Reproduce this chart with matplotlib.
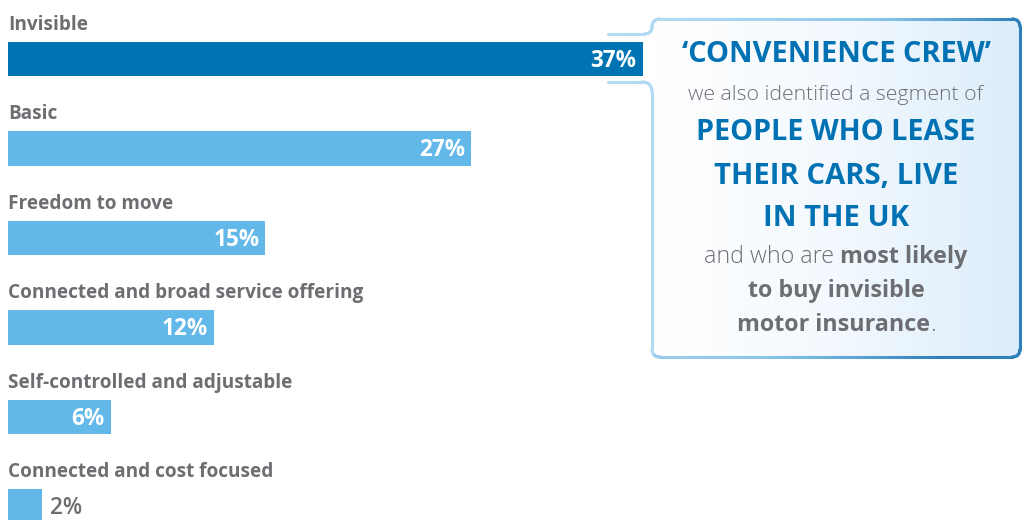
import matplotlib
matplotlib.use("Agg")
import matplotlib.pyplot as plt
import numpy as np
from matplotlib import font_manager
from matplotlib.path import Path
from matplotlib.patches import PathPatch
from matplotlib.collections import LineCollection
from matplotlib.colors import LinearSegmentedColormap

categories = ["Invisible", "Basic", "Freedom to move",
              "Connected and broad service offering",
              "Self-controlled and adjustable", "Connected and cost focused"]
values = [37, 27, 15, 12, 6, 2]

# pick a narrow family if present
def pick_font(names):
    for n in names:
        try:
            font_manager.findfont(n, fallback_to_default=False)
            return n
        except Exception:
            pass
    return "DejaVu Sans"

FONT = pick_font(["Liberation Sans Narrow", "Open Sans", "Roboto"])
plt.rcParams["font.family"] = [FONT, "DejaVu Sans"]

GRAY = "#6d6e72"
BLUE = "#0071b3"
DARK_BAR = "#0074b3"
LIGHT_BAR = "#62b8e9"

W, H = 1022, 520
fig = plt.figure(figsize=(W / 100, H / 100), dpi=100)
fig.patch.set_facecolor("white")

# overlay in pixel coords for the callout
ov = fig.add_axes([0, 0, 1, 1])
ov.set_xlim(0, W)
ov.set_ylim(H, 0)
ov.axis("off")

ax = fig.add_axes([8 / W, 0, (W - 8) / W, 1])
ax.patch.set_alpha(0)
px_per_pct = 17.15
ax.set_xlim(0, (W - 8) / px_per_pct)
ax.set_ylim((H - 59) / 89.5, -59 / 89.5)
ax.axis("off")

ypos = np.arange(len(values))
colors = [DARK_BAR] + [LIGHT_BAR] * (len(values) - 1)
ax.barh(ypos, values, height=0.38, color=colors)

fig.canvas.draw()
r = fig.canvas.get_renderer()

def fit(t, target):
    fig.canvas.draw()
    bb = t.get_window_extent(r)
    t.set_fontsize(t.get_fontsize() * target / bb.width)

# category labels
cat_txt = []
for y, c in zip(ypos, categories):
    cat_txt.append(ax.text(0, y - 0.385, c, ha="left", va="center",
                           fontsize=17, fontweight="bold", color=GRAY))
fit(cat_txt[3], 356)
for t in cat_txt:
    t.set_fontsize(cat_txt[3].get_fontsize())

# value labels
val_txt = []
for y, v in zip(ypos, values):
    if v >= 5:
        t = ax.text(v - 0.35, y + 0.02, f"{v}%", ha="right", va="center",
                    fontsize=16, fontweight="bold", color="white")
    else:
        t = ax.text(v + 0.45, y + 0.02, f"{v}%", ha="left", va="center",
                    fontsize=16, fontweight="semibold", color=GRAY)
    val_txt.append(t)
fit(val_txt[0], 46)
for t in val_txt:
    t.set_fontsize(val_txt[0].get_fontsize())

# callout box
L, R, T, B = 652, 1020, 19, 357
rad = 8
box_verts = [(L + rad, T), (R - rad, T), (R, T), (R, T + rad), (R, B - rad), (R, B),
             (R - rad, B), (L + rad, B), (L, B), (L, B - rad), (L, T + rad), (L, T),
             (L + rad, T), (L + rad, T)]
box_codes = [Path.MOVETO, Path.LINETO, Path.CURVE3, Path.CURVE3, Path.LINETO,
             Path.CURVE3, Path.CURVE3, Path.LINETO, Path.CURVE3, Path.CURVE3,
             Path.LINETO, Path.CURVE3, Path.CURVE3, Path.CLOSEPOLY]
box_path = Path(box_verts, box_codes)
clip = PathPatch(box_path, facecolor="none", edgecolor="none", transform=ov.transData)
ov.add_patch(clip)
grad = np.linspace(0, 1, 256).reshape(1, -1)
cmap = LinearSegmentedColormap.from_list("g", ["#ffffff", "#f3f9fe", "#dcedfa"])
im = ov.imshow(grad, extent=[L, R, B, T], cmap=cmap, aspect="auto", zorder=1)
im.set_clip_path(clip)
ov.set_xlim(0, W)
ov.set_ylim(H, 0)

# border with lead lines
bv = [(608, 34), (644, 34), (L, 34), (L, 27), (L, T), (L + rad, T),
      (R - rad, T), (R, T), (R, T + rad), (R, B - rad), (R, B), (R - rad, B),
      (L + rad, B), (L, B), (L, B - rad), (L, 92), (L, 82), (642, 82), (608, 82)]
bc = [Path.MOVETO, Path.LINETO, Path.CURVE3, Path.CURVE3, Path.CURVE3, Path.CURVE3,
      Path.LINETO, Path.CURVE3, Path.CURVE3, Path.LINETO, Path.CURVE3, Path.CURVE3,
      Path.LINETO, Path.CURVE3, Path.CURVE3, Path.LINETO, Path.CURVE3, Path.CURVE3,
      Path.LINETO]
poly = Path(bv, bc).to_polygons(closed_only=False)[0]
dense = []
for a, b in zip(poly[:-1], poly[1:]):
    n = max(2, int(np.hypot(*(b - a)) / 4))
    for s in np.linspace(0, 1, n, endpoint=False):
        dense.append(a + (b - a) * s)
dense.append(poly[-1])
dense = np.array(dense)
segs = np.stack([dense[:-1], dense[1:]], axis=1)
bcmap = LinearSegmentedColormap.from_list("b", ["#b3dbf3", "#8cc6ea", "#2f7fb9"])
shade = (segs[:, :, 0].mean(axis=1) - 608) / (R - 608)
shade = np.clip(shade ** 1.6 + (segs[:, :, 1].mean(axis=1) > B - 3) * 0.3, 0, 1)
lc = LineCollection(segs, colors=bcmap(shade), linewidths=2.2, zorder=3,
                    capstyle="round")
ov.add_collection(lc)

cx = 836
def line(y, s, target, weight="bold", color=BLUE):
    t = ov.text(cx, y, s, ha="center", va="center", fontsize=20,
                fontweight=weight, color=color, zorder=4)
    fit(t, target)
    return t

line(55, "\u2018CONVENIENCE CREW\u2019", 310)
line(95, "we also identified a segment of", 295, weight="light", color=GRAY)
line(133, "PEOPLE WHO LEASE", 280)
line(176, "THEIR CARS, LIVE", 244)
line(218, "IN THE UK", 146)
t7 = line(291, "to buy invisible", 177, color=GRAY)
fs = t7.get_fontsize()

def mixed(y, parts):
    ts = []
    for s, wgt in parts:
        ts.append(ov.text(0, y, s.strip(), ha="left", va="center", fontsize=fs,
                          fontweight=wgt, color=GRAY, zorder=4))
    fig.canvas.draw()
    ws = [t.get_window_extent(r).width for t in ts]
    gaps = [fs * 0.36 if s.endswith(" ") else 0 for s, _ in parts]
    total = sum(ws) + sum(gaps[:-1])
    x = cx - total / 2
    for t, w, g in zip(ts, ws, gaps):
        t.set_x(x)
        x += w + g
    return ts

mixed(257, [("and who are ", "light"), ("most likely", "bold")])
mixed(325, [("motor insurance", "bold"), (".", "light")])

fig.savefig("out.png", dpi=100)
